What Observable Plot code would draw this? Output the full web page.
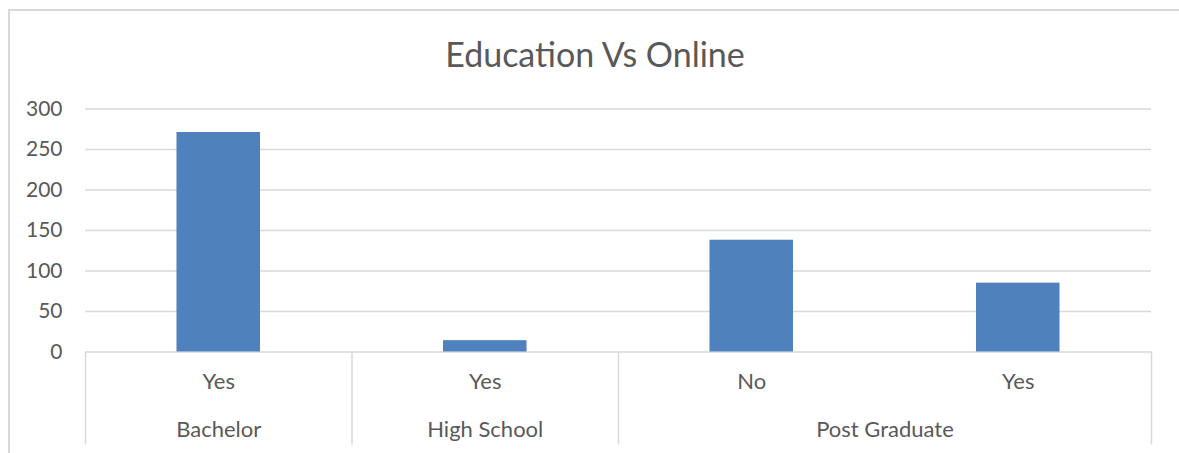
<!DOCTYPE html>
<html>
<head>
<meta charset="utf-8">
<script src="https://cdn.jsdelivr.net/npm/d3@7"></script>
<script src="https://cdn.jsdelivr.net/npm/@observablehq/plot@0.6"></script>
<style>
  html, body { margin: 0; padding: 0; background: #fff; }
  #wrap { position: relative; width: 1179px; height: 453px; overflow: hidden; }
  #border { position: absolute; left: 8px; top: 9px; width: 1200px; height: 520px;
            border: 2px solid #d9d9d9; box-sizing: border-box; }
  #chart { position: absolute; left: 0; top: 0; }
  svg { font-family: Lato, "Open Sans", sans-serif; }
</style>
</head>
<body>
<div id="wrap"><div id="border"></div><div id="chart"></div></div>
<script>
const title = "Education Vs Online";
const groups = ["Bachelor", "High School", "Post Graduate", "Post Graduate"];
const onlineLabels = ["Yes", "Yes", "No", "Yes"];
const values = [271, 14, 138, 85];
const yTicks = [0, 50, 100, 150, 200, 250, 300];

const data = values.map((v, i) => ({i, group: groups[i], online: onlineLabels[i], value: v}));

// group spans (start index, end index exclusive)
const groupSpans = [];
groups.forEach((g, i) => {
  const last = groupSpans[groupSpans.length - 1];
  if (last && last.group === g) last.end = i + 1;
  else groupSpans.push({group: g, start: i, end: i + 1});
});
const boundaries = [0, ...groupSpans.map(s => s.end)];

const barFrac = 1 / (1 + 2.19); // Excel gap width 219%
const half = barFrac / 2;
const grey = "#595959";
const gridColor = "#d9d9d9";

const plot = Plot.plot({
  width: 1179,
  height: 453,
  marginTop: 108.5,
  marginBottom: 101.5,
  marginLeft: 85,
  marginRight: 28,
  x: {type: "linear", domain: [0, values.length], axis: null},
  y: {domain: [0, 300], axis: null},
  style: {fontFamily: "Lato, 'Open Sans', sans-serif", background: "transparent"},
  marks: [
    Plot.ruleY(yTicks, {stroke: gridColor, strokeWidth: 1.5}),
    Plot.rectY(data, {
      x1: d => d.i + 0.5 - half,
      x2: d => d.i + 0.5 + half,
      y: "value",
      fill: "#4f81bd",
      inset: 0
    }),
    Plot.axisY({
      ticks: yTicks,
      tickSize: 0,
      tickPadding: 23,
      fontSize: 21,
      fill: grey,
      label: null,
      tickFormat: d => String(d)
    }),
    // category separators below the axis
    Plot.axisX({
      ticks: boundaries,
      tickSize: 93,
      tickFormat: () => "",
      label: null,
      stroke: gridColor,
      strokeWidth: 1.5,
      strokeOpacity: 1
    }),
    // inner labels
    Plot.text(data, {
      x: d => d.i + 0.5,
      frameAnchor: "bottom",
      dy: 37,
      text: "online",
      fontSize: 22,
      fill: grey
    }),
    // group labels
    Plot.text(groupSpans, {
      x: d => (d.start + d.end) / 2,
      frameAnchor: "bottom",
      dy: 85,
      text: "group",
      fontSize: 22,
      fill: grey
    }),
    // title
    Plot.text([title], {
      frameAnchor: "top",
      dx: -23.5,
      dy: -66,
      text: d => d,
      fontSize: 34,
      fill: grey
    })
  ]
});
document.getElementById("chart").appendChild(plot);
</script>
</body>
</html>
